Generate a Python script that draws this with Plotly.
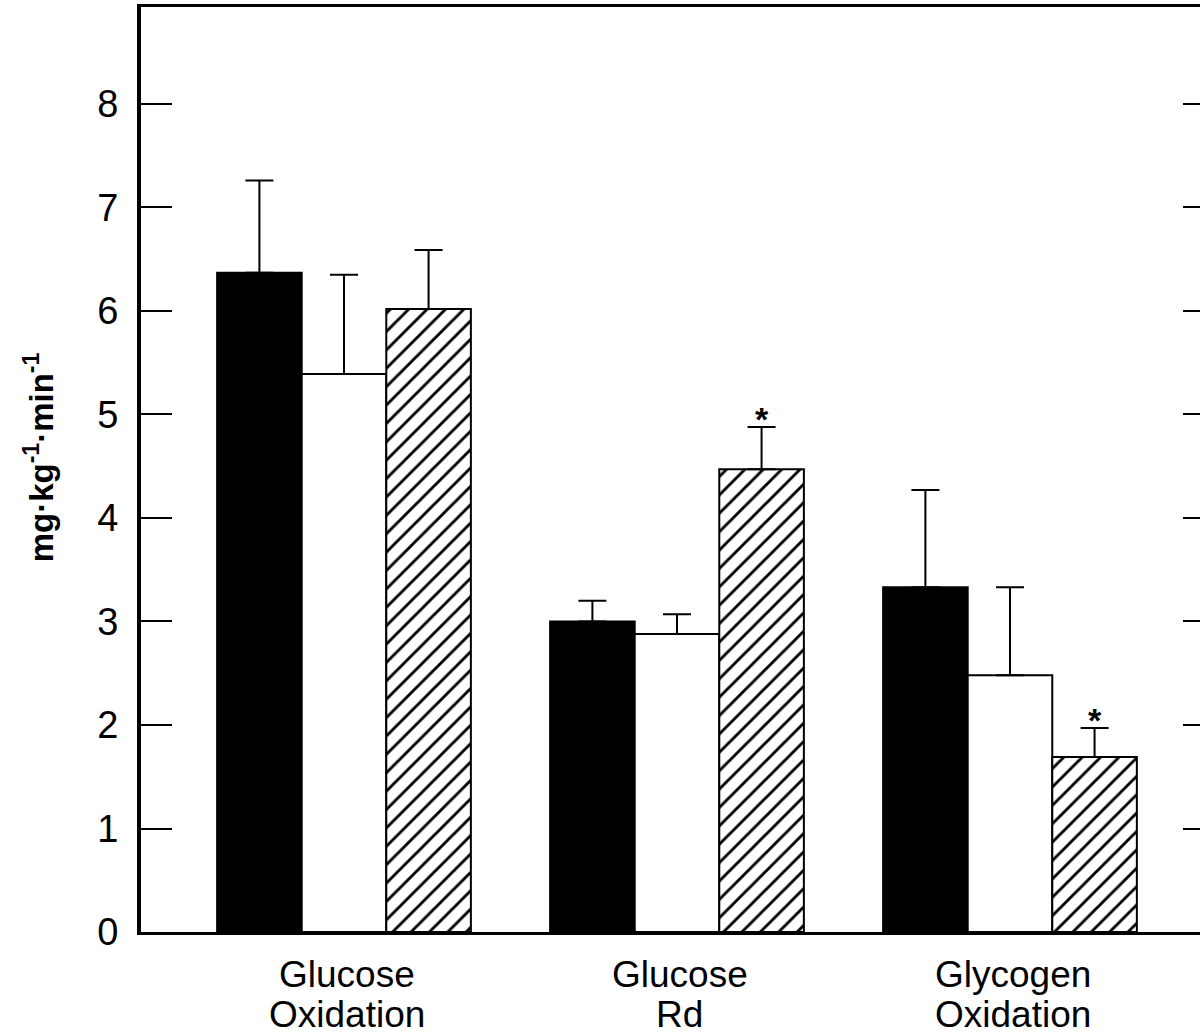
import plotly.graph_objects as go

# Measured rates (mg·kg-1·min-1), mean and SE for three conditions
label_top = ["Glucose", "Glucose", "Glycogen"]
label_bottom = ["Oxidation", "Rd", "Oxidation"]
positions = [0, 1, 2]

cond_a = [6.37, 3.00, 3.33]
cond_a_se = [0.89, 0.20, 0.94]
cond_b = [5.39, 2.88, 2.48]
cond_b_se = [0.96, 0.19, 0.85]
cond_c = [6.02, 4.47, 1.69]
cond_c_se = [0.57, 0.41, 0.28]
cond_c_sig = [False, True, True]

y_ticks = [0, 1, 2, 3, 4, 5, 6, 7, 8]

FONT = "Liberation Sans, Arial, Helvetica, sans-serif"
BARGAP = 0.238
bar_w = (1 - BARGAP) / 3


def err(se):
    return dict(type="data", array=se, arrayminus=[0] * len(se), symmetric=False,
                color="black", thickness=2, width=14)


fig = go.Figure()
fig.add_trace(go.Bar(x=positions, y=cond_a, error_y=err(cond_a_se),
                     marker=dict(color="black", line=dict(color="black", width=2))))
fig.add_trace(go.Bar(x=positions, y=cond_b, error_y=err(cond_b_se),
                     marker=dict(color="white", line=dict(color="black", width=2))))
fig.add_trace(go.Bar(x=positions, y=cond_c, error_y=err(cond_c_se),
                     marker=dict(color="white", line=dict(color="black", width=2),
                                 pattern=dict(shape="/", fgcolor="black", bgcolor="white",
                                              fgopacity=1, fillmode="replace",
                                              size=13, solidity=0.22))))

# significance marks above the third condition (anchor points live on the right axis)
sig_x = [p + bar_w for p, s in zip(positions, cond_c_sig) if s]
sig_y = [v + se for v, se, s in zip(cond_c, cond_c_se, cond_c_sig) if s]
fig.add_trace(go.Scatter(x=sig_x, y=sig_y, yaxis="y2", mode="markers",
                         marker=dict(size=1, opacity=0), hoverinfo="skip"))
for x, y in zip(sig_x, sig_y):
    fig.add_annotation(x=x, y=y, xref="x", yref="y", text="<b>*</b>",
                       showarrow=False, yanchor="middle", yshift=8,
                       font=dict(family=FONT, size=34, color="black"))

# two-line category labels
for p, t, b in zip(positions, label_top, label_bottom):
    fig.add_annotation(x=p, y=-0.046, xref="x", yref="paper", text=t, showarrow=False,
                       yanchor="middle", xshift=3,
                       font=dict(family=FONT, size=37, color="black"))
    fig.add_annotation(x=p, y=-0.089, xref="x", yref="paper", text=b, showarrow=False,
                       yanchor="middle", xshift=3,
                       font=dict(family=FONT, size=37, color="black"))

fig.add_annotation(x=-0.096, y=0.5135, xref="paper", yref="paper",
                   text="<b>mg·kg<sup>-1</sup>·min<sup>-1</sup></b>", textangle=-90,
                   showarrow=False, xanchor="center", yanchor="middle",
                   font=dict(family=FONT, size=33, color="black"))

y_range = [0, 8.937]
fig.update_layout(
    width=1200, height=1034,
    margin=dict(l=141, r=0, t=7, b=102),
    paper_bgcolor="white", plot_bgcolor="white",
    barmode="group", bargap=BARGAP, bargroupgap=0,
    showlegend=False,
    font=dict(family=FONT, color="black"),
    xaxis=dict(range=[-0.6096, 2.5706], showticklabels=False, ticks="",
               showgrid=False, zeroline=False, showline=True, linecolor="black",
               linewidth=3, mirror=True),
    yaxis=dict(range=y_range, tickvals=y_ticks, ticks="inside", ticklen=31,
               tickwidth=2, tickcolor="black", showgrid=False, zeroline=False,
               showline=True, linecolor="black", linewidth=4,
               tickfont=dict(family=FONT, size=38, color="black"),
               ticklabelstandoff=11),
    yaxis2=dict(range=y_range, overlaying="y", side="right", anchor="x",
                tickvals=y_ticks[1:], ticks="inside", ticklen=17, tickwidth=2,
                tickcolor="black", showticklabels=False, showgrid=False,
                zeroline=False, showline=False),
)

fig.write_html("out.html")
